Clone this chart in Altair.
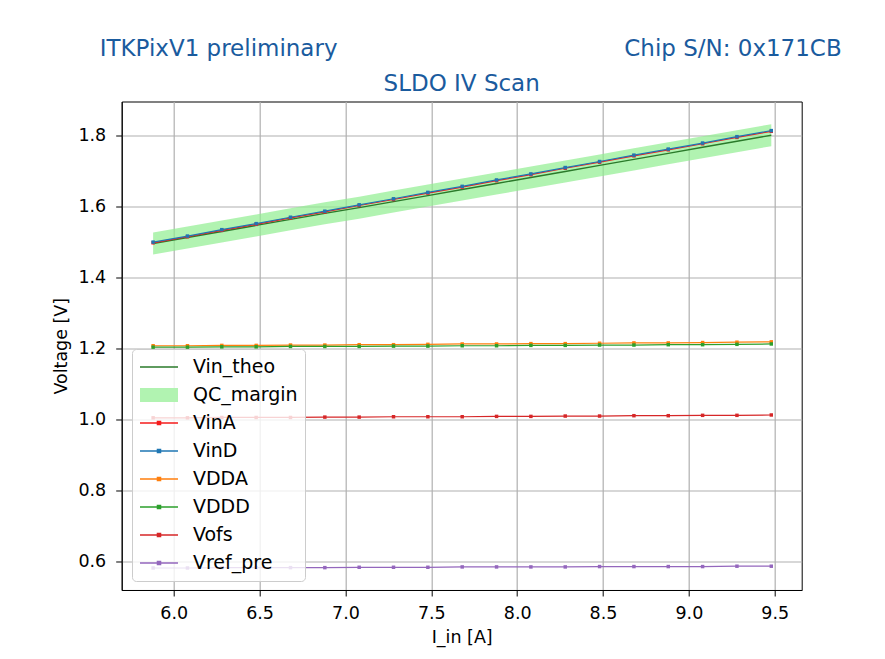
import altair as alt
import pandas as pd

# ---------------- data ----------------
I_in = [5.88, 6.08, 6.28, 6.48, 6.68, 6.88, 7.08, 7.28, 7.48, 7.68,
        7.88, 8.08, 8.28, 8.48, 8.68, 8.88, 9.08, 9.28, 9.48]

Vin_theo = [1.496, 1.513, 1.530, 1.547, 1.564, 1.581, 1.597, 1.614, 1.631, 1.648,
            1.665, 1.682, 1.699, 1.716, 1.733, 1.750, 1.767, 1.784, 1.801]
QC_lo = [1.465, 1.482, 1.499, 1.516, 1.533, 1.550, 1.566, 1.583, 1.600, 1.617,
         1.634, 1.651, 1.668, 1.685, 1.702, 1.719, 1.736, 1.753, 1.770]
QC_hi = [1.527, 1.544, 1.561, 1.578, 1.595, 1.612, 1.628, 1.645, 1.662, 1.679,
         1.696, 1.713, 1.730, 1.747, 1.764, 1.781, 1.798, 1.815, 1.832]

VinA = [1.498, 1.515, 1.533, 1.550, 1.568, 1.585, 1.603, 1.620, 1.638, 1.655,
        1.673, 1.690, 1.708, 1.725, 1.743, 1.760, 1.777, 1.795, 1.812]
VinD = [1.500, 1.517, 1.535, 1.552, 1.570, 1.587, 1.605, 1.622, 1.640, 1.657,
        1.675, 1.692, 1.710, 1.727, 1.745, 1.762, 1.779, 1.797, 1.814]
VDDA = [1.208, 1.208, 1.209, 1.209, 1.210, 1.210, 1.211, 1.211, 1.212, 1.213,
        1.213, 1.214, 1.214, 1.215, 1.216, 1.216, 1.217, 1.218, 1.219]
VDDD = [1.204, 1.204, 1.205, 1.205, 1.206, 1.206, 1.206, 1.207, 1.207, 1.208,
        1.208, 1.209, 1.209, 1.210, 1.210, 1.211, 1.211, 1.212, 1.213]
Vofs = [1.005, 1.005, 1.006, 1.006, 1.006, 1.007, 1.007, 1.008, 1.008, 1.008,
        1.009, 1.009, 1.010, 1.010, 1.011, 1.011, 1.012, 1.012, 1.013]
Vref_pre = [0.582, 0.582, 0.583, 0.583, 0.583, 0.583, 0.584, 0.584, 0.584, 0.585,
            0.585, 0.585, 0.585, 0.586, 0.586, 0.586, 0.586, 0.587, 0.587]

legend_names = ["Vin_theo", "QC_margin", "VinA", "VinD", "VDDA", "VDDD", "Vofs", "Vref_pre"]
legend_colors = ["#2a7a2a", "#b1f3b1", "#f51d1d", "#1f77b4", "#ff7f0e", "#2ca02c", "#d62728", "#9467bd"]

x_ticks = [6.0, 6.5, 7.0, 7.5, 8.0, 8.5, 9.0, 9.5]
y_ticks = [0.6, 0.8, 1.0, 1.2, 1.4, 1.6, 1.8]

header_left = "ITKPixV1 preliminary"
header_right = "Chip S/N: 0x171CB"
title_text = "SLDO IV Scan"
x_title = "I_in [A]"
y_title = "Voltage [V]"

# ---------------- tables ----------------
measured = {"VinA": VinA, "VinD": VinD, "VDDA": VDDA, "VDDD": VDDD,
            "Vofs": Vofs, "Vref_pre": Vref_pre}
rows = []
for name, vals in measured.items():
    for xv, yv in zip(I_in, vals):
        rows.append({"series": name, "x": xv, "y": yv})
meas_df = pd.DataFrame(rows)
theo_df = pd.DataFrame({"series": "Vin_theo", "x": I_in, "y": Vin_theo})
band_df = pd.DataFrame({"x": I_in, "lo": QC_lo, "hi": QC_hi})
carrier_df = pd.DataFrame({"series": legend_names, "x": I_in[0], "y": Vin_theo[0]})
hdr_l = pd.DataFrame({"t": [header_left]})
hdr_r = pd.DataFrame({"t": [header_right]})
hdr_c = pd.DataFrame({"t": [title_text]})

FONT = "DejaVu Sans"
BLUE = "#1a5b9e"

xs = alt.Scale(domain=[5.697, 9.657], nice=False, zero=False)
ys = alt.Scale(domain=[0.520, 1.896], nice=False, zero=False)

# colour scales (line/marker scales deliberately exclude the band entry)
line_names = [n for n in legend_names if n != "QC_margin"]
line_colors = [c for n, c in zip(legend_names, legend_colors) if n != "QC_margin"]
pt_names = line_names[1:]
pt_colors = line_colors[1:]

line_path = "M-1,0H1"
mark_path = "M-1,0H1M-0.08,-0.08H0.08V0.08H-0.08Z"
rect_path = "".join("M-1,%.2fH1" % (-0.33 + 0.06 * i) for i in range(12))
shape_range = [line_path, rect_path] + [mark_path] * 6

X = alt.X("x:Q", scale=xs, axis=alt.Axis(values=x_ticks, format=".1f", title=x_title))
Y = alt.Y("y:Q", scale=ys, axis=alt.Axis(values=y_ticks, format=".1f", title=y_title))

band = alt.Chart(band_df).mark_area(color="#90ee90", opacity=0.7).encode(
    x=alt.X("x:Q", scale=xs),
    y=alt.Y("lo:Q", scale=ys),
    y2="hi:Q",
)

theo = alt.Chart(theo_df).mark_line(strokeWidth=1.4).encode(
    x=X, y=Y,
    stroke=alt.Stroke("series:N", scale=alt.Scale(domain=line_names, range=line_colors),
                      legend=None),
)

lines = alt.Chart(meas_df).mark_line(strokeWidth=1.2).encode(
    x=X, y=Y,
    stroke=alt.Stroke("series:N", scale=alt.Scale(domain=line_names, range=line_colors),
                      legend=None),
)

pts = alt.Chart(meas_df).mark_square(size=12, opacity=1).encode(
    x=X, y=Y,
    fill=alt.Fill("series:N", scale=alt.Scale(domain=pt_names, range=pt_colors), legend=None),
)

leg = dict(title=None, orient="none", legendX=10.3, legendY=247.5,
           padding=7, fillColor="rgba(255,255,255,0.8)", strokeColor="#cccccc",
           cornerRadius=4, labelFont=FONT, labelFontSize=19, labelColor="black",
           symbolSize=1444, symbolStrokeWidth=1.5, symbolOpacity=1,
           clipHeight=22, rowPadding=6, labelOffset=14, symbolOffset=0,
           labelLimit=300)

carrier = alt.Chart(carrier_df).mark_point(filled=False, opacity=0).encode(
    x=X, y=Y,
    color=alt.Color("series:N", scale=alt.Scale(domain=legend_names, range=legend_colors),
                    legend=alt.Legend(**leg)),
    shape=alt.Shape("series:N", scale=alt.Scale(domain=legend_names, range=shape_range),
                    legend=alt.Legend(**leg)),
)


def header(df, align, xpos, ypos):
    return alt.Chart(df).mark_text(font=FONT, fontSize=23, color=BLUE, align=align,
                                   baseline="middle").encode(
        text="t:N", x=alt.value(xpos), y=alt.value(ypos))


t_left = header(hdr_l, "left", -22, -52.5)
t_right = header(hdr_r, "right", 720, -52.5)
t_mid = header(hdr_c, "center", 340, -17.5)

chart = alt.layer(band, theo, lines, pts, carrier, t_left, t_right, t_mid).properties(
    width=680, height=488.5,
    autosize=alt.AutoSizeParams(type="none"),
    padding={"left": 113.7, "top": 93.5, "right": 60, "bottom": 60},
).configure_view(
    stroke="black", strokeWidth=1
).configure_axis(
    labelFont=FONT, labelFontSize=17.5, labelColor="black",
    titleFont=FONT, titleFontSize=17.5, titleFontWeight="normal", titleColor="black",
    tickColor="black", tickWidth=1,
    domainColor="black", domainWidth=1,
    gridColor="#b0b0b0", gridWidth=1.2,
).configure_axisX(
    tickSize=6, labelPadding=9, titlePadding=6
).configure_axisY(
    tickSize=6, labelPadding=10, titlePadding=7
)

chart.save("out.html", embed_options={"renderer": "svg", "actions": False})
